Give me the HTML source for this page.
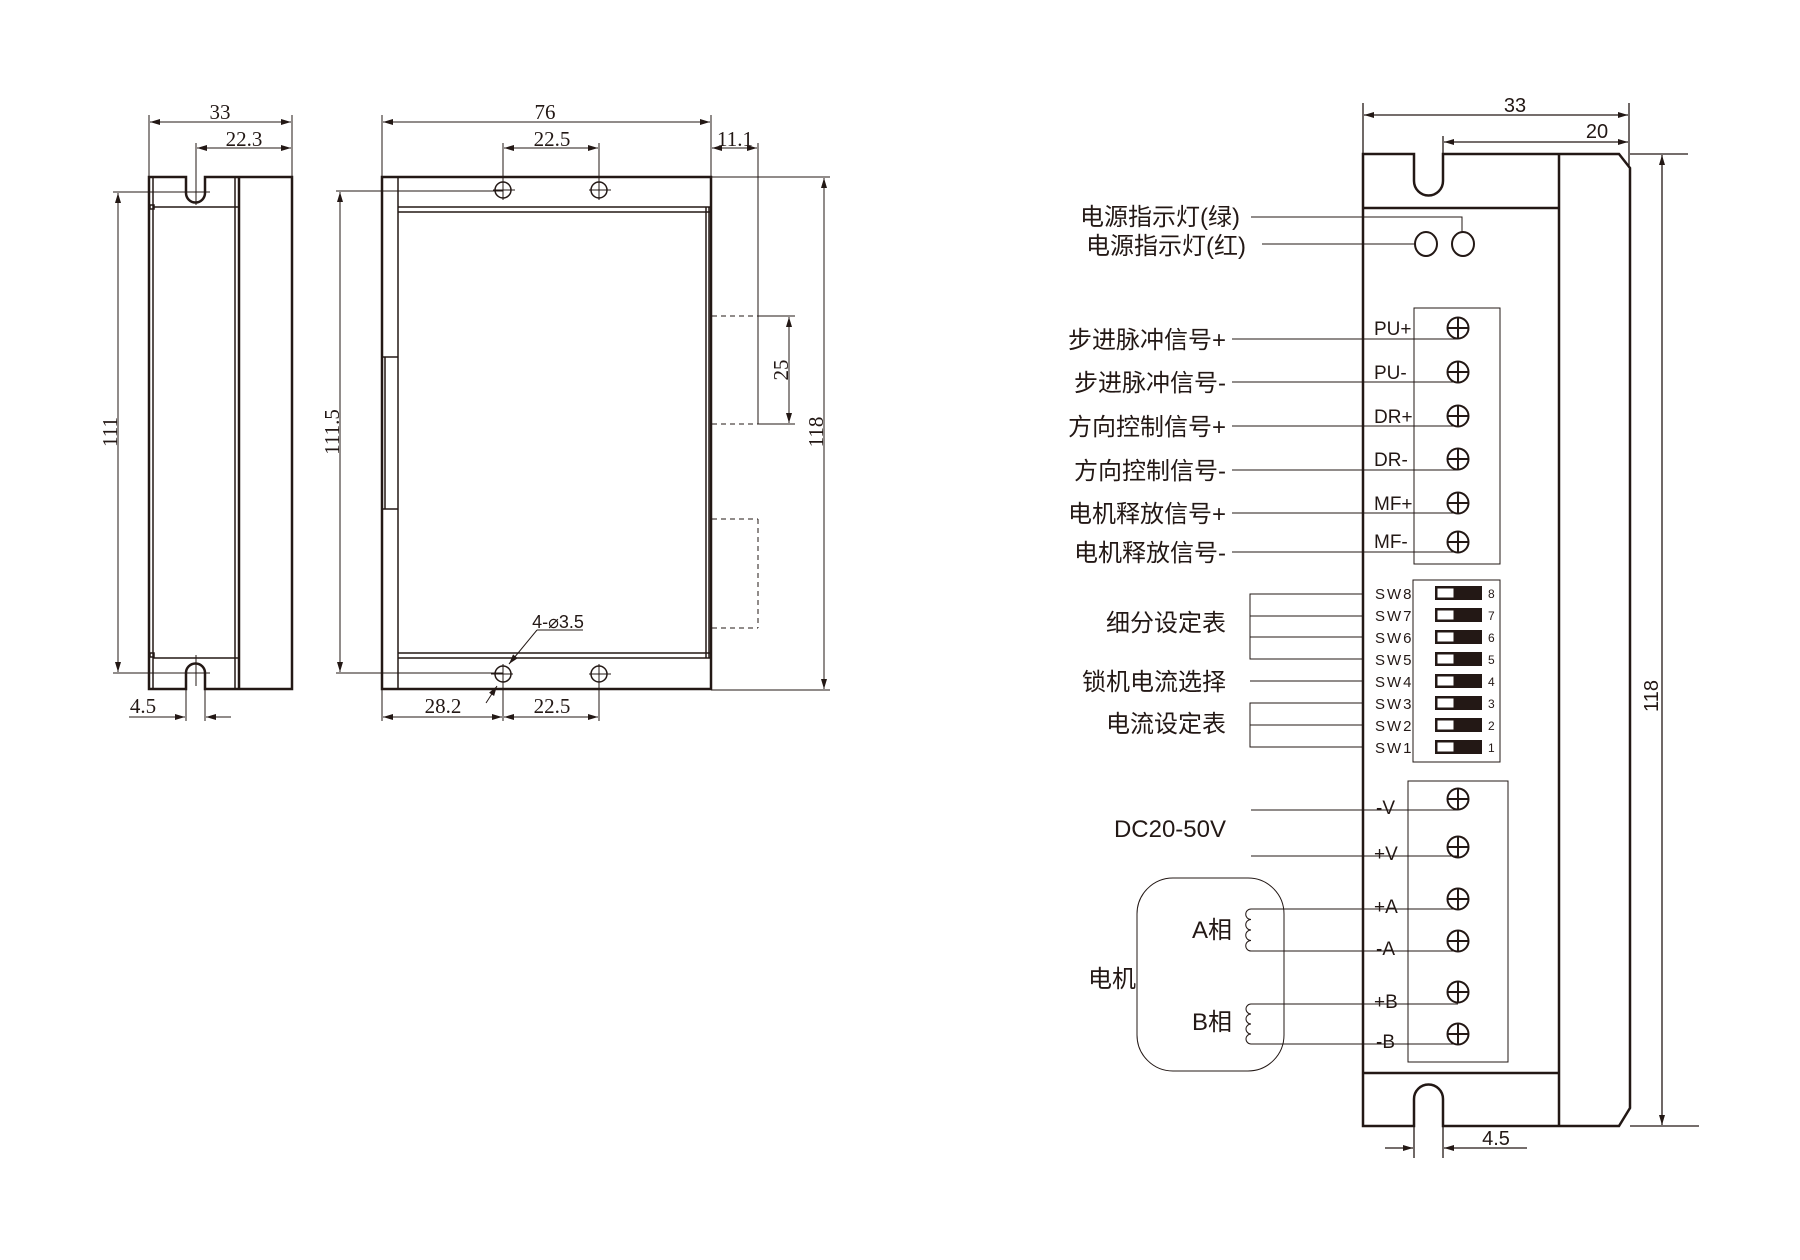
<!DOCTYPE html>
<html><head><meta charset="utf-8"><style>
html,body{margin:0;padding:0;background:#fff;}
svg{display:block;}
.d{font-family:"Liberation Serif","Noto Serif CJK SC",serif;font-size:21px;fill:#231815;}
.s{font-family:"Liberation Sans","Noto Sans CJK SC",sans-serif;fill:#231815;}
</style></head><body>
<svg width="1800" height="1260" viewBox="0 0 1800 1260" xmlns="http://www.w3.org/2000/svg">
<defs>
<marker id="a" viewBox="0 0 10 6" refX="10" refY="3" markerWidth="14" markerHeight="6" markerUnits="userSpaceOnUse" orient="auto-start-reverse"><path d="M0,0L10,3L0,6z" fill="#231815"/></marker>
<g id="t"><circle cx="1458" cy="0" r="10.5"/><line x1="1447.5" y1="0" x2="1468.5" y2="0"/><line x1="1458" y1="-10.5" x2="1458" y2="10.5"/></g>
<g id="sw"><rect x="1436" y="0" width="45" height="12" fill="#231815"/><rect x="1437.5" y="1.5" width="16" height="9" fill="#fff" stroke="none"/></g>
</defs>
<g stroke="#231815" fill="none">
<!-- LEFT VIEW -->
<g stroke-width="2.5">
<path d="M149,177 H186 V193 A9.5,9.5 0 0 0 205,193 V177 H292 V689 H205 V673 A9.5,9.5 0 0 0 186,673 V689 H149 Z"/>
<line x1="239" y1="177" x2="239" y2="689"/>
</g>
<g stroke-width="1.5">
<line x1="153" y1="177" x2="153" y2="689"/>
<line x1="235" y1="177" x2="235" y2="689"/>
<line x1="153" y1="207" x2="239" y2="207"/>
<line x1="153" y1="658" x2="239" y2="658"/>
<rect x="150" y="205" width="4" height="4"/>
<rect x="150" y="653" width="4" height="4"/>
</g>
<g stroke-width="1">
<line x1="196" y1="143" x2="196" y2="205"/>
<line x1="196" y1="655" x2="196" y2="686"/>
<line x1="149" y1="115" x2="149" y2="177"/>
<line x1="292" y1="115" x2="292" y2="177"/>
<line x1="150" y1="122" x2="291" y2="122" marker-start="url(#a)" marker-end="url(#a)"/>
<line x1="197" y1="148" x2="291" y2="148" marker-start="url(#a)" marker-end="url(#a)"/>
<line x1="113" y1="192" x2="210" y2="192"/>
<line x1="113" y1="673" x2="210" y2="673"/>
<line x1="118" y1="193" x2="118" y2="672" marker-start="url(#a)" marker-end="url(#a)"/>
<line x1="186" y1="676" x2="186" y2="721"/>
<line x1="205" y1="676" x2="205" y2="721"/>
<line x1="129" y1="717" x2="185" y2="717" marker-end="url(#a)"/>
<line x1="231" y1="717" x2="206" y2="717" marker-end="url(#a)"/>
</g>
<!-- MIDDLE VIEW -->
<g stroke-width="2.5">
<rect x="382" y="177" width="329" height="512"/>
</g>
<g stroke-width="1.5">
<line x1="398" y1="177" x2="398" y2="689"/>
<line x1="382" y1="357" x2="398" y2="357"/>
<line x1="382" y1="509" x2="398" y2="509"/>
<line x1="385" y1="357" x2="385" y2="509"/>
<line x1="398" y1="207" x2="711" y2="207"/>
<line x1="398" y1="212" x2="711" y2="212"/>
<line x1="398" y1="653" x2="711" y2="653"/>
<line x1="398" y1="658" x2="711" y2="658"/>
<line x1="706" y1="207" x2="706" y2="658"/>
<line x1="709" y1="207" x2="709" y2="658"/>
<circle cx="503" cy="190" r="8"/><circle cx="599" cy="190" r="8"/>
<circle cx="503" cy="674" r="8"/><circle cx="599" cy="674" r="8"/>
</g>
<g stroke-width="1">
<line x1="503" y1="143" x2="503" y2="200"/><line x1="493" y1="190" x2="515" y2="190"/>
<line x1="599" y1="143" x2="599" y2="200"/><line x1="589" y1="190" x2="611" y2="190"/>
<line x1="503" y1="664" x2="503" y2="721"/><line x1="491" y1="674" x2="513" y2="674"/>
<line x1="599" y1="664" x2="599" y2="721"/><line x1="589" y1="674" x2="611" y2="674"/>
<line x1="382" y1="115" x2="382" y2="177"/>
<line x1="711" y1="115" x2="711" y2="177"/>
<line x1="383" y1="122" x2="710" y2="122" marker-start="url(#a)" marker-end="url(#a)"/>
<line x1="504" y1="148" x2="598" y2="148" marker-start="url(#a)" marker-end="url(#a)"/>
<line x1="712" y1="148" x2="757" y2="148" marker-start="url(#a)" marker-end="url(#a)"/>
<line x1="758" y1="143" x2="758" y2="424"/>
<line x1="336" y1="191" x2="503" y2="191"/>
<line x1="336" y1="673" x2="503" y2="673"/>
<line x1="340" y1="192" x2="340" y2="672" marker-start="url(#a)" marker-end="url(#a)"/>
<line x1="711" y1="177" x2="830" y2="177"/>
<line x1="711" y1="690" x2="830" y2="690"/>
<line x1="824" y1="178" x2="824" y2="689" marker-start="url(#a)" marker-end="url(#a)"/>
<line x1="758" y1="316" x2="795" y2="316"/>
<line x1="758" y1="424" x2="795" y2="424"/>
<line x1="789" y1="317" x2="789" y2="423" marker-start="url(#a)" marker-end="url(#a)"/>
<line x1="382" y1="690" x2="382" y2="721"/>
<line x1="383" y1="717" x2="502" y2="717" marker-start="url(#a)" marker-end="url(#a)"/>
<line x1="504" y1="717" x2="598" y2="717" marker-start="url(#a)" marker-end="url(#a)"/>
<line x1="486" y1="703" x2="497" y2="686" marker-end="url(#a)"/>
<line x1="509" y1="664" x2="537" y2="630" marker-start="url(#a)"/>
<line x1="537" y1="630" x2="583" y2="630"/>
<g stroke-dasharray="5,4">
<line x1="712" y1="316" x2="758" y2="316"/>
<line x1="712" y1="424" x2="758" y2="424"/>
<line x1="712" y1="519" x2="758" y2="519"/>
<line x1="712" y1="628" x2="758" y2="628"/>
<line x1="758" y1="519" x2="758" y2="628"/>
</g>
</g>
<!-- RIGHT DEVICE -->
<g stroke-width="2.5">
<path d="M1363,154 H1414 V181 A14.5,14.5 0 0 0 1443,181 V154 H1619 L1630,168 V1108 L1619,1126 H1443 V1099 A14.5,14.5 0 0 0 1414,1099 V1126 H1363 Z"/>
<line x1="1559" y1="154" x2="1559" y2="1126"/>
<line x1="1363" y1="208" x2="1559" y2="208"/>
<line x1="1363" y1="1073" x2="1559" y2="1073"/>
</g>
<g stroke-width="1.3">
<line x1="1363" y1="103" x2="1363" y2="154"/>
<line x1="1629" y1="103" x2="1629" y2="168"/>
<line x1="1443" y1="136" x2="1443" y2="154"/>
<line x1="1364" y1="115" x2="1628" y2="115" marker-start="url(#a)" marker-end="url(#a)"/>
<line x1="1444" y1="142" x2="1628" y2="142" marker-start="url(#a)" marker-end="url(#a)"/>
<line x1="1630" y1="154" x2="1688" y2="154"/>
<line x1="1630" y1="1126" x2="1699" y2="1126"/>
<line x1="1662" y1="155" x2="1662" y2="1125" marker-start="url(#a)" marker-end="url(#a)"/>
<line x1="1414" y1="1126" x2="1414" y2="1158"/>
<line x1="1443" y1="1126" x2="1443" y2="1158"/>
<line x1="1385" y1="1148" x2="1413" y2="1148" marker-end="url(#a)"/>
<line x1="1527" y1="1148" x2="1444" y2="1148" marker-end="url(#a)"/>
</g>
<g stroke-width="2">
<ellipse cx="1426" cy="244" rx="11" ry="12"/>
<ellipse cx="1463" cy="244" rx="11" ry="12"/>
</g>
<g stroke-width="1">
<polyline points="1251,217 1462,217 1462,232"/>
<line x1="1262" y1="244" x2="1415" y2="244"/>
<rect x="1414" y="308" width="86" height="256"/>
<rect x="1413" y="580" width="87" height="182"/>
<rect x="1408" y="781" width="100" height="281"/>
<rect x="1137" y="878" width="147" height="193" rx="36"/>
<line x1="1232" y1="339" x2="1458" y2="339"/>
<line x1="1232" y1="382" x2="1458" y2="382"/>
<line x1="1232" y1="426" x2="1458" y2="426"/>
<line x1="1232" y1="470" x2="1458" y2="470"/>
<line x1="1232" y1="513" x2="1458" y2="513"/>
<line x1="1232" y1="552" x2="1458" y2="552"/>
<polyline points="1363,594 1250,594 1250,659 1363,659"/>
<line x1="1250" y1="616" x2="1363" y2="616"/>
<line x1="1250" y1="637" x2="1363" y2="637"/>
<line x1="1250" y1="681" x2="1363" y2="681"/>
<polyline points="1363,703 1250,703 1250,747 1363,747"/>
<line x1="1250" y1="725" x2="1363" y2="725"/>
<line x1="1251" y1="810" x2="1458" y2="810"/>
<line x1="1251" y1="856" x2="1458" y2="856"/>
<line x1="1251" y1="909" x2="1458" y2="909"/>
<line x1="1251" y1="951" x2="1458" y2="951"/>
<line x1="1251" y1="1004" x2="1458" y2="1004"/>
<line x1="1251" y1="1044" x2="1458" y2="1044"/>
<path d="M1251,909 a5.25,5.25 0 0 0 0,10.5 a5.25,5.25 0 0 0 0,10.5 a5.25,5.25 0 0 0 0,10.5 a5.25,5.25 0 0 0 0,10.5"/>
<path d="M1251,1004 a5,5 0 0 0 0,10 a5,5 0 0 0 0,10 a5,5 0 0 0 0,10 a5,5 0 0 0 0,10"/>
</g>
</g>
<g stroke="#231815" stroke-width="2" fill="none">
<use href="#t" y="328"/><use href="#t" y="372"/><use href="#t" y="416"/><use href="#t" y="459"/><use href="#t" y="503"/><use href="#t" y="542"/>
<use href="#t" y="799"/><use href="#t" y="847"/><use href="#t" y="899"/><use href="#t" y="941"/><use href="#t" y="992"/><use href="#t" y="1034"/>
</g>
<g stroke="#231815" stroke-width="2">
<use href="#sw" y="587"/><use href="#sw" y="609"/><use href="#sw" y="631"/><use href="#sw" y="653"/><use href="#sw" y="675"/><use href="#sw" y="697"/><use href="#sw" y="719"/><use href="#sw" y="741"/>
</g>
<g class="d" text-anchor="middle">
<text x="220" y="119">33</text>
<text x="244" y="146">22.3</text>
<text x="143" y="713">4.5</text>
<text x="545" y="119">76</text>
<text x="552" y="146">22.5</text>
<text x="735" y="146">11.1</text>
<text x="443" y="713">28.2</text>
<text x="552" y="713">22.5</text>
<text transform="translate(117,432) rotate(-90)">111</text>
<text transform="translate(339,432) rotate(-90)">111.5</text>
<text transform="translate(788,370) rotate(-90)">25</text>
<text transform="translate(823,432) rotate(-90)">118</text>
</g>
<text x="558" y="628" class="s" font-size="18" text-anchor="middle">4-⌀3.5</text>
<g class="s" font-size="20" text-anchor="middle">
<text x="1515" y="112">33</text>
<text x="1597" y="138">20</text>
<text x="1496" y="1145">4.5</text>
<text transform="translate(1658,696) rotate(-90)">118</text>
</g>
<g class="s" font-size="24" text-anchor="end">
<text x="1240" y="225">电源指示灯(绿)</text>
<text x="1246" y="254">电源指示灯(红)</text>
<text x="1226" y="348">步进脉冲信号+</text>
<text x="1226" y="391">步进脉冲信号-</text>
<text x="1226" y="435">方向控制信号+</text>
<text x="1226" y="479">方向控制信号-</text>
<text x="1226" y="522">电机释放信号+</text>
<text x="1226" y="561">电机释放信号-</text>
<text x="1226" y="631">细分设定表</text>
<text x="1226" y="690">锁机电流选择</text>
<text x="1226" y="732">电流设定表</text>
<text x="1226" y="837">DC20-50V</text>
<text x="1232" y="938">A相</text>
<text x="1232" y="1030">B相</text>
<text x="1136" y="987">电机</text>
</g>
<g class="s" font-size="19">
<text x="1374" y="335">PU+</text>
<text x="1374" y="379">PU-</text>
<text x="1374" y="423">DR+</text>
<text x="1374" y="466">DR-</text>
<text x="1374" y="510">MF+</text>
<text x="1374" y="548">MF-</text>
<text x="1376" y="814">-V</text>
<text x="1374" y="860">+V</text>
<text x="1374" y="913">+A</text>
<text x="1376" y="955">-A</text>
<text x="1374" y="1008">+B</text>
<text x="1376" y="1048">-B</text>
</g>
<g class="s" font-size="15" letter-spacing="2">
<text x="1375" y="599">SW8</text><text x="1375" y="621">SW7</text><text x="1375" y="643">SW6</text><text x="1375" y="665">SW5</text>
<text x="1375" y="687">SW4</text><text x="1375" y="709">SW3</text><text x="1375" y="731">SW2</text><text x="1375" y="753">SW1</text>
</g>
<g class="s" font-size="12">
<text x="1488" y="598">8</text><text x="1488" y="620">7</text><text x="1488" y="642">6</text><text x="1488" y="664">5</text>
<text x="1488" y="686">4</text><text x="1488" y="708">3</text><text x="1488" y="730">2</text><text x="1488" y="752">1</text>
</g>
</svg>
</body></html>
